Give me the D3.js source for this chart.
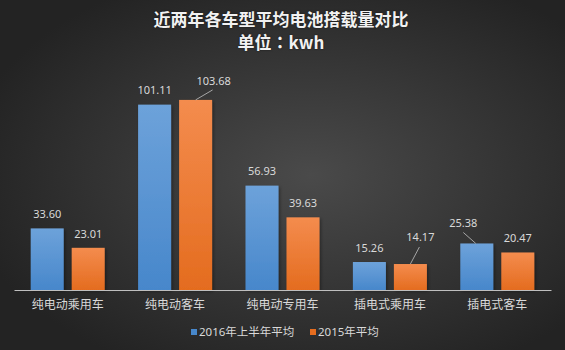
<!DOCTYPE html>
<html>
<head>
<meta charset="utf-8">
<script src="https://cdn.jsdelivr.net/npm/d3@7"></script>
<style>
  html, body { margin: 0; padding: 0; background: #2a2a2a; }
  svg { display: block; }
</style>
</head>
<body>
<svg id="chart" width="565" height="350"></svg>
<script>
const categories = ["纯电动乘用车", "纯电动客车", "纯电动专用车", "插电式乘用车", "插电式客车"];
const seriesNames = ["2016年上半年平均", "2015年平均"];
const values2016H1 = [33.60, 101.11, 56.93, 15.26, 25.38];
const values2015 = [23.01, 103.68, 39.63, 14.17, 20.47];
const titleLines = ["近两年各车型平均电池搭载量对比", "单位：kwh"];

// label displacement for labels drawn with leader lines (series index, category index)
const labelShift = [
  { s: 1, c: 1, dx: 18, dy: -5 },
  { s: 1, c: 3, dx: 10, dy: -13 },
  { s: 0, c: 4, dx: -13.5, dy: -6 }
];

const seriesValues = [values2016H1, values2015];
const W = 565, H = 350;
const svg = d3.select("#chart");
const defs = svg.append("defs");

const bg = defs.append("radialGradient").attr("id", "bg")
  .attr("cx", "55%").attr("cy", "50%").attr("r", "62%");
bg.append("stop").attr("offset", "0%").attr("stop-color", "#4a4a4a");
bg.append("stop").attr("offset", "100%").attr("stop-color", "#232323");

const colors = [["#6da2da", "#4787cb"], ["#f48c4e", "#e46c1f"]];
colors.forEach((c, i) => {
  const g = defs.append("linearGradient").attr("id", "bar" + i)
    .attr("x1", 0).attr("y1", 0).attr("x2", 0).attr("y2", 1);
  g.append("stop").attr("offset", "0%").attr("stop-color", c[0]);
  g.append("stop").attr("offset", "100%").attr("stop-color", c[1]);
});
const sh = defs.append("filter").attr("id", "shadow").attr("x", "-20%").attr("y", "-20%").attr("width", "150%").attr("height", "150%");
sh.append("feDropShadow").attr("dx", 1.5).attr("dy", 1.5).attr("stdDeviation", 1.5).attr("flood-color", "#000").attr("flood-opacity", 0.35);

svg.append("rect").attr("width", W).attr("height", H).attr("fill", "url(#bg)");

const x0 = d3.scaleBand().domain(categories).range([14, 551]).paddingInner(0).paddingOuter(0);
const inner = 74;
const x1 = d3.scaleBand().domain(seriesNames).range([0, inner]).paddingInner(0.195).paddingOuter(0);
const y = d3.scaleLinear().domain([0, 120]).range([290, 70]);

const font = "'Noto Sans', 'Liberation Sans', 'Noto Sans CJK SC', sans-serif";

// title (full-width colon drawn centred, as in the source)
const titleG = svg.append("g");
titleLines.forEach((line, i) => {
  const t = titleG.append("text")
    .attr("x", 281).attr("y", 26 + i * 23)
    .attr("text-anchor", "middle")
    .attr("font-family", "'Noto Sans CJK SC', 'Noto Sans', sans-serif")
    .attr("font-weight", "bold").attr("font-size", 17)
    .attr("fill", "#f2f2f2")
    .style("text-shadow", "0 0 2px rgba(0,0,0,0.6)");
  line.split(/(：)/).forEach(part => {
    if (!part) return;
    const ts = t.append("tspan").text(part);
    if (part === "：") ts.attr("font-family", "'Noto Sans CJK TC', sans-serif");
  });
});

// bars
const groups = svg.append("g").selectAll("g").data(categories).join("g")
  .attr("transform", d => `translate(${x0(d) + (x0.bandwidth() - inner) / 2},0)`);

const barData = (c, ci) => seriesNames.map((s, si) => ({ s, si, ci, v: seriesValues[si][ci] }));

groups.selectAll("rect").data((c, ci) => barData(c, ci)).join("rect")
  .attr("x", d => x1(d.s)).attr("width", x1.bandwidth())
  .attr("y", d => y(d.v)).attr("height", d => y(0) - y(d.v))
  .attr("fill", d => `url(#bar${d.si})`)
  .attr("filter", "url(#shadow)");

// axis
const xAxis = d3.axisBottom(x0).tickSize(0).tickPadding(10);
const ax = svg.append("g").attr("transform", `translate(0,${y(0)})`).call(xAxis);
ax.select(".domain").attr("stroke", "#bfbfbf").attr("stroke-width", 1);
ax.selectAll("text").attr("font-family", "'Noto Sans CJK SC', sans-serif")
  .attr("font-size", 12).attr("fill", "#d9d9d9");

// data labels
const labels = svg.append("g");
categories.forEach((c, ci) => {
  seriesNames.forEach((s, si) => {
    const v = seriesValues[si][ci];
    const bx = x0(c) + (x0.bandwidth() - inner) / 2 + x1(s) + x1.bandwidth() / 2;
    const by = y(v);
    const sft = labelShift.find(o => o.s === si && o.c === ci);
    const lx = bx + (sft ? sft.dx : 0);
    const ly = by - 14 + (sft ? sft.dy : 0);
    if (sft) {
      let xs, ys, x2, y2;
      if (sft.dx > 0) { xs = bx; ys = by; x2 = lx - 1; y2 = ly + (sft.dy < -10 ? 10 : 9); }
      else { xs = bx - 1; ys = by; x2 = lx; y2 = ly + 9; }
      labels.append("line").attr("x1", xs).attr("y1", ys).attr("x2", x2).attr("y2", y2)
        .attr("stroke", "#a6a6a6").attr("stroke-width", 1);
    }
    labels.append("text").attr("x", lx).attr("y", ly).attr("dy", "0.35em")
      .attr("text-anchor", "middle").attr("font-family", font).attr("font-size", 11)
      .attr("fill", "#d9d9d9").text(v.toFixed(2));
  });
});

// legend
const legend = svg.append("g").attr("transform", "translate(0,332)");
const legX = [191, 310];
seriesNames.forEach((s, i) => {
  legend.append("rect").attr("x", legX[i]).attr("y", -3).attr("width", 6).attr("height", 6)
    .attr("fill", colors[i][1]);
  legend.append("text").attr("x", legX[i] + 8).attr("y", 0).attr("dy", "0.35em")
    .attr("font-family", "'Noto Sans', 'Noto Sans CJK SC', sans-serif").attr("font-size", 11.5)
    .attr("fill", "#d9d9d9").text(s);
});
</script>
</body>
</html>
